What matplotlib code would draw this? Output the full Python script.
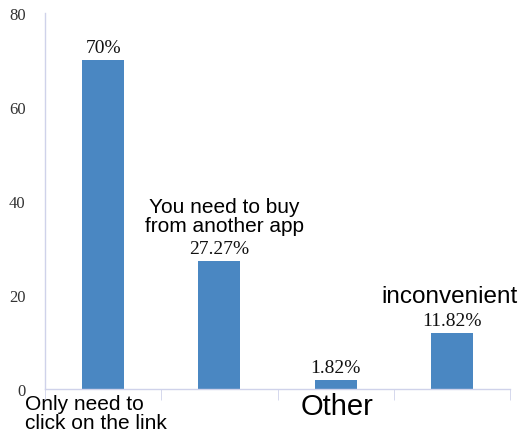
import matplotlib
matplotlib.use("Agg")
import matplotlib.pyplot as plt
import numpy as np

# ── Data ─────────────────────────────────────────────────────────────────────
categories = ["Only need to\nclick on the link", "You need to buy\nfrom another app",
              "Other", "inconvenient"]
values = [70, 27.27, 1.82, 11.82]
value_labels = ["70%", "27.27%", "1.82%", "11.82%"]
y_ticks = [0, 20, 40, 60, 80]

BAR_COLOR = "#4a87c2"
AXIS_COLOR = "#cfd2ea"
SERIF = "Liberation Serif"
SANS = "Liberation Sans"

fig = plt.figure(figsize=(5.22, 4.35), dpi=100)
ax = fig.add_axes([45 / 522, 45 / 435, 465 / 522, 376 / 435])

x = np.arange(len(values))
ax.bar(x, values, width=0.36, color=BAR_COLOR)
ax.set_xlim(-0.5, len(values) - 0.5)
ax.set_ylim(0, 80)

# axes styling
for side in ("top", "right"):
    ax.spines[side].set_visible(False)
for side in ("left", "bottom"):
    ax.spines[side].set_color(AXIS_COLOR)
    ax.spines[side].set_linewidth(1.0)

ax.set_yticks(y_ticks)
ax.set_yticklabels([str(t) for t in y_ticks], fontfamily=SERIF, fontsize=12)
ax.tick_params(axis="y", length=0, pad=14, colors="#333333")
ax.set_xticks([])
ax.set_xticks(np.arange(-0.5, len(values)), minor=True)
ax.tick_params(axis="x", which="minor", length=8, color=AXIS_COLOR, labelbottom=False)

# value labels
for xi, v, lab in zip(x, values, value_labels):
    ax.annotate(lab, (xi, v), xytext=(0, 4), textcoords="offset pixels",
                ha="center", va="bottom", fontsize=14, fontfamily=SERIF, color="#111111")

# category annotations
ax.annotate(categories[0], (0, 0), xytext=(-78, -5), textcoords="offset pixels",
            ha="left", va="top", fontsize=15, fontfamily=SANS, linespacing=1.0)
ax.annotate(categories[1], (1, values[1]), xytext=(5, 26), textcoords="offset pixels",
            ha="center", va="bottom", fontsize=15, fontfamily=SANS, linespacing=1.0)
ax.annotate(categories[2], (2, 0), xytext=(1, -3), textcoords="offset pixels",
            ha="center", va="top", fontsize=21, fontfamily=SANS)
ax.annotate(categories[3], (3, values[3]), xytext=(-2, 26), textcoords="offset pixels",
            ha="center", va="bottom", fontsize=17.5, fontfamily=SANS)

fig.savefig("out.png", dpi=100)
